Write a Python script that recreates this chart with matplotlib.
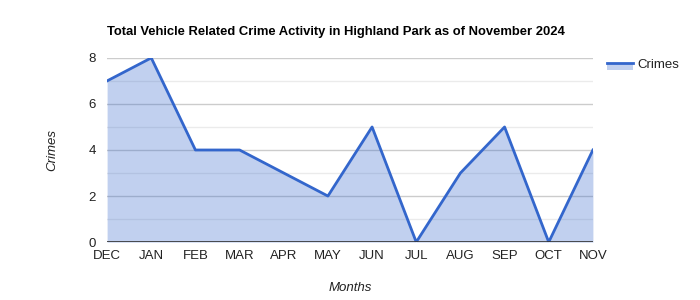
import matplotlib
matplotlib.use('Agg')
import matplotlib.pyplot as plt
from matplotlib.lines import Line2D
from matplotlib.patches import Rectangle

plt.rcParams['font.family'] = ['Liberation Sans', 'DejaVu Sans']

# Datos
months = ['DEC', 'JAN', 'FEB', 'MAR', 'APR', 'MAY', 'JUN', 'JUL', 'AUG', 'SEP', 'OCT', 'NOV']
crimes = [7, 8, 4, 4, 3, 2, 5, 0, 3, 5, 0, 4]

line_color = '#3366cc'

fig = plt.figure(figsize=(7, 3), dpi=100)
ax = fig.add_axes([0.153, 0.193, 0.694, 0.614])

x = list(range(len(months)))
ax.fill_between(x, crimes, 0, color=line_color, alpha=0.3, linewidth=0, zorder=2)
ax.plot(x, crimes, color=line_color, linewidth=2, zorder=3)

ax.set_xlim(0, len(months) - 1)
ax.set_ylim(0, 8)
ax.set_xticks(x)
ax.set_xticklabels(months)
ax.set_yticks([0, 2, 4, 6, 8])
ax.set_yticks([1, 3, 5, 7], minor=True)

# rejilla estilo google charts
ax.grid(True, which='major', axis='y', color='#cccccc', linewidth=1, zorder=1)
ax.grid(True, which='minor', axis='y', color='#ebebeb', linewidth=1, zorder=1)
ax.grid(False, axis='x')
ax.axhline(0, color='#333333', linewidth=1.2, zorder=4)

for s in ax.spines.values():
    s.set_visible(False)
ax.tick_params(axis='both', which='both', length=0, labelsize=9.5, colors='#222222')
ax.tick_params(axis='x', pad=6)
ax.tick_params(axis='y', pad=8)

ax.set_xlabel('Months', fontsize=9.5, style='italic', color='#222222', labelpad=14)
ax.set_ylabel('Crimes', fontsize=9.5, style='italic', color='#222222', labelpad=22)

fig.text(0.153, 0.895, 'Total Vehicle Related Crime Activity in Highland Park as of November 2024',
         fontsize=9.4, fontweight='bold', ha='left', va='center', color='#000000')

# leyenda dibujada a mano (linea encima del relleno)
fig.add_artist(Rectangle((0.867, 0.767), 0.037, 0.023, transform=fig.transFigure,
                         facecolor=line_color, alpha=0.3, linewidth=0))
fig.add_artist(Line2D([0.867, 0.904], [0.79, 0.79], transform=fig.transFigure,
                      color=line_color, linewidth=2))
fig.text(0.911, 0.785, 'Crimes', fontsize=9.5, ha='left', va='center', color='#222222')

fig.savefig('out.png', dpi=100)
